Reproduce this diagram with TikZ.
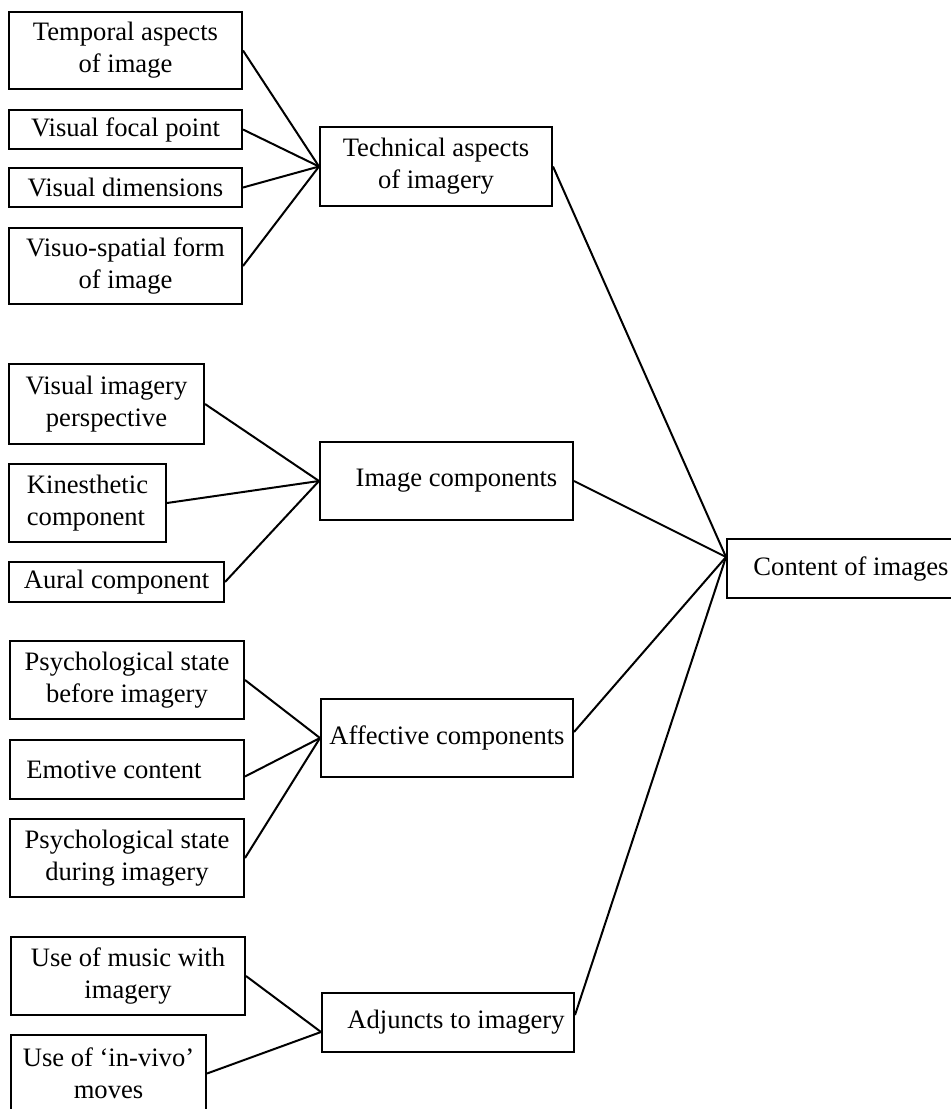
\documentclass[tikz,border=0pt]{standalone}
\usepackage{fontspec}
\setmainfont{Liberation Serif}
\begin{document}
\begin{tikzpicture}[x=0.5pt, y=-0.5pt,
  box/.style={draw, line width=1pt, inner sep=0pt, align=center,
    font=\fontsize{13.3pt}{16pt}\selectfont},
  link/.style={line width=1pt}]
\useasboundingbox (0,0) rectangle (950,1109);

% top group
\node[box, minimum width=116.5pt, minimum height=38.5pt] (temp) at (125.5,50.5) {Temporal aspects\\of image};
\node[box, minimum width=116.5pt, minimum height=19.5pt] (focal) at (125.5,129.5) {Visual focal point};
\node[box, minimum width=116.5pt, minimum height=19.5pt] (dims) at (125.5,187.5) {Visual dimensions};
\node[box, minimum width=116.5pt, minimum height=38pt] (visuo) at (125.5,266) {Visuo-spatial form\\of image};
\node[box, minimum width=116pt, minimum height=39.5pt] (tech) at (436,166.5) {Technical aspects\\of imagery};

% second group
\node[box, minimum width=97.5pt, minimum height=40pt] (vip) at (106.5,404) {Visual imagery\\perspective};
\node[box, align=left, minimum width=78.5pt, minimum height=39pt] (kin) at (87.5,503) {Kinesthetic\\component};
\node[box, minimum width=107.5pt, minimum height=20pt] (aural) at (116.5,582) {Aural component};
\node[box, minimum width=126.5pt, minimum height=39pt] (imgc) at (446.5,481) {\hspace*{10pt}Image components};

% third group
\node[box, minimum width=117pt, minimum height=39pt] (before) at (127,680) {Psychological state\\before imagery};
\node[box, minimum width=117pt, minimum height=29.5pt] (emot) at (127,769.5) {Emotive content\hspace*{13pt}};
\node[box, minimum width=117pt, minimum height=39pt] (during) at (127,858) {Psychological state\\during imagery};
\node[box, minimum width=126pt, minimum height=39pt] (affect) at (447,738) {Affective components};

% fourth group
\node[box, minimum width=117pt, minimum height=39pt] (music) at (128,976) {Use of music with\\imagery};
\node[box, minimum width=97.5pt, minimum height=38.5pt] (invivo) at (108.5,1073.5) {Use of `in-vivo'\\moves};
\node[box, minimum width=126pt, minimum height=29.5pt] (adj) at (448,1022.5) {\hspace*{8pt}Adjuncts to imagery};

% root
\node[box, minimum width=113pt, minimum height=29.5pt] (content) at (840,568.5) {\hspace*{11pt}Content of images};

% connectors into the group boxes
\draw[link] (temp.east) -- (tech.west);
\draw[link] (focal.east) -- (tech.west);
\draw[link] (dims.east) -- (tech.west);
\draw[link] (visuo.east) -- (tech.west);

\draw[link] (vip.east) -- (imgc.west);
\draw[link] (kin.east) -- (imgc.west);
\draw[link] (aural.east) -- (imgc.west);

\draw[link] (before.east) -- (affect.west);
\draw[link] ([yshift=-3.5pt]emot.east) -- (affect.west);
\draw[link] (during.east) -- (affect.west);

\draw[link] (music.east) -- ([yshift=-4.75pt]adj.west);
\draw[link] (invivo.east) -- ([yshift=-4.75pt]adj.west);

% connectors into the root
\draw[link] (tech.east) -- ([yshift=5.75pt]content.west);
\draw[link] (imgc.east) -- ([yshift=5.75pt]content.west);
\draw[link] ([yshift=3pt]affect.east) -- ([yshift=5.75pt]content.west);
\draw[link] ([yshift=3.75pt]adj.east) -- ([yshift=5.75pt]content.west);
\end{tikzpicture}
\end{document}
